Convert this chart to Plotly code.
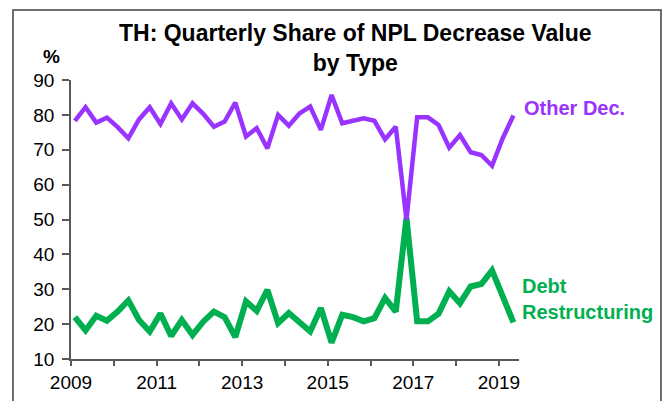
import plotly.graph_objects as go

# quarters 2009Q1 .. 2019Q2
quarters = [f"{y}Q{q}" for y in range(2009, 2020) for q in range(1, 5)][:42]

other_dec = [78.3, 82.2, 77.8, 79.2, 76.5, 73.3, 78.7, 82.2, 77.4, 83.3,
             78.7, 83.3, 80.3, 76.6, 78.1, 83.5, 73.8, 76.2, 70.4, 80.0,
             76.9, 80.4, 82.4, 75.7, 85.7, 77.6, 78.3, 79.0, 78.3, 73.0,
             76.6, 49.9, 79.3, 79.3, 77.1, 70.6, 74.2, 69.3, 68.5, 65.4,
             73.3, 79.8]

debt_restructuring = [22.0, 18.2, 22.4, 21.0, 23.6, 26.8, 21.2, 17.9, 23.0, 16.6,
                      21.2, 16.9, 20.7, 23.6, 22.0, 16.3, 26.5, 23.8, 29.8, 20.3,
                      23.2, 20.8, 17.9, 24.6, 14.7, 22.7, 22.0, 20.8, 21.7, 27.5,
                      23.6, 50.5, 20.8, 20.8, 23.0, 29.4, 26.0, 30.8, 31.5, 35.4,
                      27.5, 20.5]

year_ticks = [2009, 2011, 2013, 2015, 2017, 2019]

PURPLE = "#9933FF"
GREEN = "#00B050"
AXIS = "#595959"
FONT = "Arial, Liberation Sans, sans-serif"

# page body adds an 8px margin, so the figure is drawn 8px smaller/shifted
OFF = 8
L, T = 71 - OFF, 80 - OFF
PW, PH = 448, 279

# place each quarter a little past its start on a decimal-year axis
x = [int(s[:4]) + (int(s[-1]) - 1) * 0.25 + 0.09 for s in quarters]

fig = go.Figure()
fig.add_trace(go.Scatter(x=x, y=debt_restructuring, mode="lines",
                         line=dict(color=GREEN, width=6), name="Debt Restructuring"))
fig.add_trace(go.Scatter(x=x, y=other_dec, mode="lines",
                         line=dict(color=PURPLE, width=4.5), name="Other Dec."))

fig.update_layout(
    width=670 - OFF, height=401 - OFF,
    margin=dict(l=L, r=670 - OFF - L - PW, t=T, b=401 - OFF - T - PH, autoexpand=False),
    paper_bgcolor="white", plot_bgcolor="white",
    showlegend=False,
    font=dict(family=FONT, size=17, color="black"),
)

fig.update_xaxes(
    range=[2009, 2019.47], tickvals=year_ticks, ticktext=[str(v) for v in year_ticks],
    showgrid=False, zeroline=False, showline=True, linecolor=AXIS, linewidth=1.5,
    ticks="outside", ticklen=5, tickcolor=AXIS, tickwidth=1.5,
    minor=dict(dtick=1, tick0=2009, ticks="outside", ticklen=5, tickcolor=AXIS, tickwidth=1.5),
    tickfont=dict(size=19), fixedrange=True,
)
fig.update_yaxes(
    range=[10, 90], dtick=10,
    showgrid=False, zeroline=False, showline=True, linecolor=AXIS, linewidth=1.5,
    ticks="outside", ticklen=7, tickcolor=AXIS, tickwidth=1.5,
    tickfont=dict(size=19), ticklabelstandoff=4, fixedrange=True,
)


def px_x(v):
    return (v - 71) / PW


def px_y(v):
    return (359 - v) / PH


# outer frame
fig.add_shape(type="rect", xref="paper", yref="paper",
              x0=px_x(13), x1=px_x(661), y0=-0.3, y1=px_y(10),
              line=dict(color="#404040", width=1.5), layer="below")

fig.add_annotation(text="<b>TH: Quarterly Share of NPL Decrease Value<br>by Type</b>",
                   xref="paper", yref="paper", x=px_x(355), y=px_y(18),
                   xanchor="center", yanchor="top", showarrow=False,
                   font=dict(size=23, color="black"))
fig.add_annotation(text="<b>%</b>", xref="paper", yref="paper",
                   x=px_x(51), y=px_y(56),
                   xanchor="center", yanchor="middle", showarrow=False,
                   font=dict(size=19))
fig.add_annotation(text="<b>Other Dec.</b>", xref="paper", yref="paper",
                   x=px_x(522), y=px_y(108),
                   xanchor="left", yanchor="middle", showarrow=False,
                   font=dict(size=20, color=PURPLE))
fig.add_annotation(text="<b>Debt<br>Restructuring</b>", xref="paper", yref="paper",
                   x=px_x(520), y=px_y(299),
                   xanchor="left", yanchor="middle", align="left", showarrow=False,
                   font=dict(size=20, color=GREEN))

fig.write_html("out.html")
